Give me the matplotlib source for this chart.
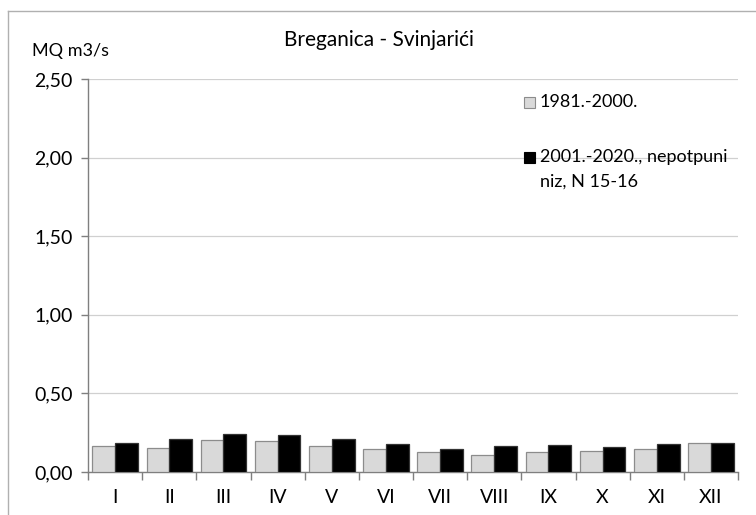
import numpy as np
import matplotlib.pyplot as plt
from matplotlib.lines import Line2D
from matplotlib.patches import Rectangle
from matplotlib.ticker import FuncFormatter

plt.rcParams['font.family'] = ['Lato', 'DejaVu Sans']

# mean monthly discharge, Breganica - Svinjarici
months = ['I', 'II', 'III', 'IV', 'V', 'VI', 'VII', 'VIII', 'IX', 'X', 'XI', 'XII']
mq_1981_2000 = [0.165, 0.155, 0.204, 0.200, 0.165, 0.149, 0.127, 0.108, 0.127, 0.132, 0.149, 0.184]
mq_2001_2020 = [0.183, 0.212, 0.244, 0.238, 0.210, 0.181, 0.149, 0.165, 0.172, 0.159, 0.178, 0.187]
label_old = '1981.-2000.'
label_new = '2001.-2020., nepotpuni\nniz, N 15-16'

fig = plt.figure(figsize=(7.56, 5.15), dpi=100)
ax = fig.add_axes([88/756, 1 - 472/515, 650/756, 393/515])

x = np.arange(len(months))
w = 0.42
ax.bar(x - w/2, mq_1981_2000, width=w, color='#d9d9d9', edgecolor='#8c8c8c', linewidth=0.9, zorder=3)
ax.bar(x + w/2, mq_2001_2020, width=w, color='black', edgecolor='#333333', linewidth=0.9, zorder=3)

ax.set_xlim(-0.5, len(months) - 0.5)
ax.set_ylim(0, 2.5)
ax.set_yticks(np.arange(0, 2.51, 0.5))
ax.yaxis.set_major_formatter(FuncFormatter(lambda v, p: f'{v:.2f}'.replace('.', ',')))
ax.grid(axis='y', color='#d0d0d0', linewidth=0.9, zorder=0)

# month labels centred, tick marks between the groups
ax.set_xticks(x)
ax.set_xticklabels(months, fontsize=14)
ax.set_xticks(np.arange(-0.5, len(months)), minor=True)
ax.tick_params(axis='x', which='major', length=0, pad=12)
ax.tick_params(axis='x', which='minor', length=6, color='#7f7f7f', width=1)
ax.tick_params(axis='y', length=5, color='#7f7f7f', width=1, labelsize=14, pad=6)

for s in ['top', 'right']:
    ax.spines[s].set_visible(False)
for s in ['left', 'bottom']:
    ax.spines[s].set_color('#7f7f7f')
    ax.spines[s].set_linewidth(1)

fig.text(379/756, 1 - 40/515, 'Breganica - Svinjarići', ha='center', va='center', fontsize=15)
fig.text(32/756, 1 - 51/515, 'MQ m3/s', ha='left', va='center', fontsize=13)

# legend boxes
fig.patches.append(Rectangle((524/756, 1 - 108/515), 11/756, 11/515, transform=fig.transFigure,
                             facecolor='#d9d9d9', edgecolor='#8c8c8c', linewidth=0.8))
fig.text(540/756, 1 - 102/515, label_old, ha='left', va='center', fontsize=13)
fig.patches.append(Rectangle((524/756, 1 - 163/515), 11/756, 11/515, transform=fig.transFigure,
                             facecolor='black', edgecolor='black', linewidth=0.8))
for i, line in enumerate(label_new.split('\n')):
    fig.text(540/756, 1 - (157 + 25*i)/515, line, ha='left', va='center', fontsize=13)

# chart frame
fig.lines.append(Line2D([8/756, 8/756], [0, 1 - 11/515], transform=fig.transFigure, color='#b0b0b0', linewidth=1))
fig.lines.append(Line2D([8/756, 1], [1 - 11/515, 1 - 11/515], transform=fig.transFigure, color='#b0b0b0', linewidth=1))

fig.savefig('out.png', dpi=100)
